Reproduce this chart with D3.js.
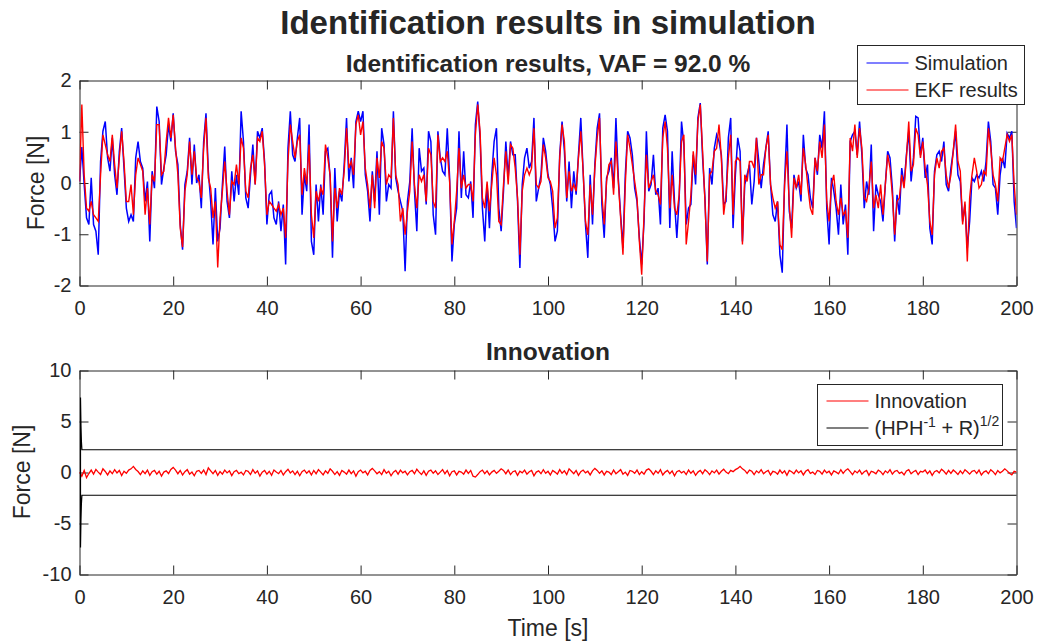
<!DOCTYPE html>
<html>
<head>
<meta charset="utf-8">
<script src="https://cdn.jsdelivr.net/npm/d3@7"></script>
<style>
  body { margin: 0; background: #fff; }
  text { font-family: "Liberation Sans", Arial, sans-serif; fill: #262626; }
  .tick line, .domain { stroke: #262626; }
</style>
</head>
<body>
<div id="chart"></div>
<script>
// Sample times (s), one sample every 0.5 s
const time = d3.range(0, 200.01, 0.5);

// Simulated force [N]
const simulation = [
  0.03,0.70,-0.03,-0.68,-0.81,0.10,-0.81,-0.94,-1.40,0.42,
  1.01,1.20,0.49,0.23,0.88,0.16,-0.23,0.62,1.07,0.29,
  -0.49,-0.75,-0.62,-0.75,0.49,0.81,0.42,0.29,-0.36,0.03,
  -1.14,0.23,-0.10,1.49,1.20,-0.03,0.29,0.55,1.14,0.81,
  1.36,0.62,0.36,-0.81,-1.30,-0.03,0.23,0.88,-0.03,0.75,
  0.00,0.16,-0.49,0.81,1.36,0.23,-0.36,-1.20,-0.10,-1.14,
  -0.88,-0.03,0.71,-0.36,-0.68,0.23,-0.36,0.16,-0.23,1.40,
  0.81,-0.29,-0.49,0.16,0.75,-0.03,1.01,0.88,1.07,0.42,
  -0.81,-0.23,-0.16,-0.68,-0.81,-0.36,-0.94,-0.42,-1.59,0.68,
  1.40,0.55,0.42,0.88,1.27,-0.62,0.16,-0.16,1.14,-1.14,
  -1.40,-0.03,-0.75,-0.03,-0.62,0.62,0.68,0.10,-1.46,0.29,
  -0.75,-0.16,-0.36,0.36,1.27,0.03,0.49,-0.10,1.20,1.40,
  1.20,1.40,0.16,-0.16,-0.75,0.23,-0.36,0.62,-0.62,1.07,
  0.75,-0.36,-0.03,-0.10,1.40,0.10,-0.16,-0.36,-0.55,-1.72,
  -0.36,0.03,1.07,-0.16,-0.94,0.68,0.23,0.29,-0.42,1.01,
  0.81,-0.62,-1.01,1.01,0.49,0.23,0.16,1.07,0.10,-1.53,
  -0.81,-0.49,1.01,-0.29,0.62,-0.23,-0.29,0.03,-0.68,1.14,
  1.59,0.88,-0.49,-1.14,-0.03,-0.88,0.16,0.81,1.07,-0.49,
  -0.94,-0.16,0.81,0.10,0.81,0.55,0.55,-0.36,-1.66,-0.03,
  0.49,0.68,0.29,0.42,1.27,-0.36,-0.10,0.16,0.88,0.62,
  0.16,-0.03,-0.49,-1.14,-0.94,0.55,1.20,0.62,-0.36,0.42,
  -0.49,0.23,-0.23,0.55,1.27,0.23,-0.81,-1.46,0.16,-0.81,
  0.36,1.07,1.36,-0.42,-1.07,0.10,0.23,0.49,-0.10,1.27,
  0.10,-0.62,-1.27,0.16,1.01,0.88,0.55,-0.10,-0.36,-1.07,
  -1.59,-0.75,1.01,-0.16,-0.03,0.55,-0.23,-0.10,-0.81,1.07,
  1.33,1.01,-0.88,0.62,-0.36,-1.07,-0.29,1.20,0.75,-0.81,
  -0.49,-0.42,0.55,-0.03,1.27,1.56,0.49,-0.29,-1.59,0.29,
  -0.03,0.68,0.94,0.81,0.55,-0.42,-0.36,0.88,1.27,-0.88,
  0.16,0.88,0.62,-1.14,-0.03,0.16,0.36,-0.42,0.03,0.88,
  0.42,-0.10,0.36,0.68,1.01,-0.03,-0.62,-0.75,-0.36,-1.40,
  -1.75,0.03,1.14,-0.55,-0.88,0.16,-0.10,0.03,-0.36,0.94,
  0.29,0.16,-0.29,-0.49,0.49,0.16,0.94,0.68,1.40,-0.49,
  -1.20,0.10,-0.16,-0.49,-1.01,-0.03,-0.81,-0.42,-1.40,0.81,
  0.94,1.01,0.55,1.20,0.55,-0.49,0.03,-0.23,0.75,-0.94,
  -0.03,-0.23,-0.36,-0.75,-0.03,0.62,0.49,-0.10,-1.14,-0.23,
  -0.62,0.29,-0.03,0.55,1.01,0.03,0.49,1.30,1.27,0.55,
  0.88,0.10,0.36,-0.88,-1.20,0.23,0.55,0.62,0.42,0.81,
  -0.03,-0.16,0.29,0.62,1.01,0.16,0.03,-0.75,-0.42,-1.27,
  -0.75,0.10,0.03,0.16,0.10,0.23,0.03,0.42,1.20,0.81,
  -0.03,-0.10,-0.62,0.16,0.49,0.29,0.97,0.88,1.01,-0.36,
  -0.88
];

// EKF estimate [N]
const ekf = [
  0.03,1.53,0.16,-0.49,-0.55,-0.36,-0.62,-0.68,-0.75,0.16,
  0.94,0.75,0.55,0.42,0.94,0.36,-0.10,0.49,1.01,0.42,
  -0.36,-0.36,-0.03,-0.62,0.16,0.49,0.36,0.23,-0.62,-0.10,
  -0.81,0.16,0.03,1.14,1.14,0.16,0.23,0.81,1.27,0.88,
  1.33,0.68,0.16,-0.88,-1.25,-0.16,0.16,0.81,0.16,0.62,
  0.10,0.03,-0.29,0.68,1.27,0.10,-0.10,-0.68,-0.36,-1.65,
  -0.68,-0.16,0.42,-0.16,-0.62,0.03,-0.03,0.36,-0.03,0.88,
  0.68,-0.16,-0.29,0.29,0.55,-0.03,0.88,0.81,1.01,0.36,
  -0.62,-0.36,-0.42,-0.49,-0.55,-0.42,-0.62,-0.49,-1.07,0.42,
  1.14,0.81,0.49,0.81,0.94,-0.23,0.29,-0.03,0.75,-0.62,
  -1.07,-0.16,-0.36,-0.10,-0.23,0.75,0.49,0.16,-1.14,-0.10,
  -0.49,-0.10,-0.23,0.23,1.07,0.29,0.42,0.16,1.14,1.33,
  0.94,1.20,0.29,-0.03,-0.49,0.16,-0.49,0.49,0.10,0.81,
  0.68,-0.03,0.16,0.10,1.27,0.16,-0.03,-0.75,-0.49,-1.01,
  -0.55,-0.16,0.81,-0.03,-0.49,0.16,0.03,0.16,-0.36,0.68,
  0.55,-0.36,-0.49,0.94,0.42,0.49,0.42,0.62,0.03,-1.20,
  -0.75,-0.16,0.68,-0.10,0.16,-0.10,-0.03,-0.03,-0.36,0.94,
  1.53,1.01,-0.29,-0.49,0.03,-0.55,-0.03,0.49,0.16,-0.75,
  -0.81,-0.03,0.62,-0.03,0.75,0.68,0.29,-0.29,-1.40,-0.16,
  0.16,0.29,0.16,0.29,1.07,-0.03,-0.10,0.03,0.75,0.49,
  0.10,0.03,-0.16,-0.88,-0.68,0.49,1.14,0.81,-0.29,0.23,
  -0.16,-0.03,-0.16,0.49,1.01,0.23,-0.75,-1.01,-0.03,-0.62,
  0.29,0.88,1.27,-0.23,-0.81,0.03,0.36,0.42,-0.23,0.81,
  0.03,-0.68,-1.40,-0.03,0.94,0.68,0.36,0.03,-0.29,-1.14,
  -1.79,-0.62,0.55,-0.10,0.03,0.16,-0.16,-0.23,-0.42,0.88,
  1.20,0.68,-0.49,0.16,-0.49,-0.62,-0.23,0.81,0.94,-1.20,
  -0.75,-0.23,0.62,0.16,1.20,1.53,0.62,-0.36,-1.53,0.16,
  0.23,0.62,0.68,1.14,0.49,-0.62,-0.23,0.49,0.94,-0.62,
  0.42,0.49,0.42,-1.20,0.16,0.03,0.42,0.42,0.29,0.88,
  -0.03,0.16,0.16,0.68,0.94,-0.03,-0.29,-0.49,-0.36,-1.20,
  -1.30,-0.03,0.62,-0.42,-1.07,0.10,-0.10,0.16,-0.23,0.68,
  0.36,-0.10,-0.49,-0.62,0.49,0.23,0.81,0.49,1.14,-0.36,
  -0.75,-0.03,0.16,-0.36,-0.62,-0.29,-0.62,-0.55,-1.07,0.88,
  0.62,1.14,0.49,1.07,0.68,-0.29,-0.36,-0.10,0.42,-0.49,
  -0.23,-0.49,-0.03,-0.62,-0.03,0.55,0.29,-0.23,-1.01,-0.36,
  -0.29,0.16,-0.10,0.49,1.20,0.23,0.36,1.07,0.94,0.49,
  0.81,0.29,-0.03,-0.75,-1.01,0.16,0.49,0.29,0.62,0.68,
  0.16,-0.10,0.16,0.62,1.14,0.42,0.23,-0.81,-0.36,-1.53,
  -0.29,0.16,0.49,0.23,-0.10,-0.03,0.23,0.16,1.07,0.68,
  0.16,-0.03,-0.36,0.49,0.42,0.68,0.94,0.81,0.94,-0.03,
  -0.62
];

// Innovation [N]
const innovation = [
  0.04,-0.36,0.20,-0.50,-0.10,0.24,-0.16,0.30,0.04,-0.20,0.36,0.10,-0.24,0.16,-0.12,0.28,-0.04,0.20,-0.30,0.12,
  -0.08,0.24,0.36,0.60,0.30,0.10,-0.20,0.16,-0.12,0.24,-0.28,0.08,0.20,-0.16,0.12,-0.36,0.04,0.16,-0.10,0.30,
  0.50,0.24,-0.12,0.20,-0.24,0.08,0.28,-0.16,0.04,-0.32,0.12,0.20,-0.08,0.24,-0.20,0.45,0.16,-0.12,0.20,-0.28,
  0.10,-0.16,0.24,-0.04,0.16,-0.30,0.08,0.20,-0.12,0.04,-0.24,0.20,0.12,-0.20,0.28,-0.08,0.16,-0.36,0.04,0.20,
  -0.16,0.12,-0.28,0.24,0.04,-0.12,0.20,-0.24,0.08,0.32,-0.04,0.16,-0.20,0.12,-0.32,0.08,0.24,-0.08,0.16,-0.24,
  0.20,-0.12,0.28,0.04,-0.24,0.16,-0.08,0.36,0.12,-0.20,0.08,-0.28,0.20,0.04,-0.16,0.24,-0.12,0.16,-0.36,0.08,
  0.24,-0.04,0.12,-0.24,0.20,0.40,0.16,-0.12,0.08,-0.20,0.28,-0.08,0.12,-0.32,0.04,0.20,-0.16,0.24,-0.04,0.12,
  -0.24,0.08,0.20,-0.12,0.32,0.04,-0.20,0.16,-0.28,0.12,0.24,-0.08,0.16,-0.20,0.04,0.28,-0.12,0.20,-0.32,0.08,
  0.16,-0.24,0.12,0.04,-0.16,0.24,-0.08,0.20,-0.36,-0.45,-0.20,0.08,0.24,-0.12,0.16,-0.24,0.04,0.20,-0.08,0.12,
  0.36,0.20,-0.12,0.24,-0.20,0.08,0.16,-0.28,0.12,-0.04,0.24,-0.16,0.08,0.20,-0.32,0.04,0.16,-0.12,0.28,-0.08,
  0.12,-0.24,0.20,0.04,-0.16,0.28,-0.08,0.16,-0.20,0.36,0.12,-0.12,0.20,-0.28,0.08,0.24,-0.04,0.12,-0.24,0.16,
  0.40,0.20,-0.08,0.16,-0.24,0.12,0.04,-0.20,0.24,-0.12,0.08,0.28,-0.16,0.04,-0.28,0.20,0.12,-0.08,0.24,-0.20,
  0.08,-0.16,0.24,0.36,0.12,-0.20,0.16,-0.08,0.28,-0.24,0.04,0.20,-0.12,0.16,-0.32,0.08,0.20,-0.04,0.12,-0.20,
  0.24,-0.08,0.16,-0.28,0.04,0.20,-0.12,0.28,0.08,-0.20,0.16,-0.04,0.24,-0.16,0.12,0.32,0.04,-0.12,0.20,0.08,
  0.28,0.40,0.60,0.36,0.20,-0.08,0.24,0.12,-0.20,0.16,-0.04,0.28,-0.12,0.08,0.20,-0.24,0.12,0.04,-0.16,0.24,
  -0.08,0.16,-0.28,0.20,0.08,-0.12,0.24,-0.04,0.16,-0.24,0.12,0.28,-0.08,0.04,-0.20,0.20,0.12,-0.16,0.24,-0.04,
  0.12,-0.24,0.16,0.04,-0.12,0.28,-0.08,0.20,0.36,0.08,-0.20,0.16,-0.04,0.24,-0.16,0.08,0.20,-0.28,0.12,0.04,
  -0.12,0.24,0.08,-0.20,0.16,-0.04,0.28,-0.16,0.12,0.20,-0.08,0.04,-0.24,0.16,0.28,-0.12,0.08,0.20,-0.20,0.12,
  0.04,0.24,-0.12,0.16,-0.28,0.08,0.20,-0.04,0.32,0.12,-0.16,0.20,-0.08,0.24,0.04,-0.20,0.16,-0.12,0.28,0.08,
  -0.16,0.12,0.20,-0.08,0.24,-0.24,0.04,0.16,-0.12,0.28,0.08,-0.20,0.20,-0.04,0.12,0.36,0.16,-0.08,-0.24,0.12,
  0.04
];

// Innovation bound (HPH^-1 + R)^1/2, drawn as one path: upper branch back to t=0, then lower branch
const boundTime = [200, 0.3, 0.2, 0.1, 0, 0, 0.1, 0.2, 0.3, 200];
const boundValue = [2.23, 2.23, 3.0, 4.6, 7.35, -7.35, -4.6, -3.0, -2.23, -2.23];

const xTicks = d3.range(0, 201, 20);
const yTicksTop = [-2, -1, 0, 1, 2];
const yTicksBottom = [-10, -5, 0, 5, 10];

const W = 1038, H = 643;
const left = 79.5, right = 1016.5;

const svg = d3.select("#chart").append("svg")
    .attr("width", W).attr("height", H);
svg.append("rect").attr("width", W).attr("height", H).attr("fill", "#fff");

const x = d3.scaleLinear().domain([0, 200]).range([left, right]);
const fmt = d => String(d); // plain hyphen minus like MATLAB

function drawAxes(top, bottom, yDomain, yTicks, id) {
    const y = d3.scaleLinear().domain(yDomain).range([bottom, top]);

    svg.append("clipPath").attr("id", id)
        .append("rect").attr("x", left).attr("y", top)
        .attr("width", right - left).attr("height", bottom - top);

    // inward ticks on all four sides
    const g = svg.append("g").attr("class", "axes");
    g.append("g").attr("transform", `translate(0,${bottom})`)
        .call(d3.axisBottom(x).tickValues(xTicks).tickFormat(fmt).tickSizeInner(-9).tickSizeOuter(0).tickPadding(15))
        .call(a => a.selectAll("text").style("font-size", "20px").attr("fill", "#262626"));
    g.append("g").attr("transform", `translate(0,${top})`)
        .call(d3.axisTop(x).tickValues(xTicks).tickSizeInner(-9).tickSizeOuter(0).tickFormat(""));
    g.append("g").attr("transform", `translate(${left},0)`)
        .call(d3.axisLeft(y).tickValues(yTicks).tickFormat(fmt).tickSizeInner(-9).tickSizeOuter(0).tickPadding(8))
        .call(a => a.selectAll("text").style("font-size", "20px").attr("fill", "#262626"));
    g.append("g").attr("transform", `translate(${right},0)`)
        .call(d3.axisRight(y).tickValues(yTicks).tickSizeInner(-9).tickSizeOuter(0).tickFormat(""));
    g.selectAll("text").style("font-family", "'Liberation Sans', Arial, sans-serif");
    return y;
}

// ---------- top panel ----------
const y1 = drawAxes(80.5, 285.5, [-2, 2], yTicksTop, "clipTop");
const line1 = d3.line().x((d, i) => x(time[i])).y(d => y1(d));

const plotTop = svg.append("g").attr("clip-path", "url(#clipTop)");
plotTop.append("path").datum(simulation)
    .attr("fill", "none").attr("stroke", "#0000ff").attr("stroke-width", 1.5)
    .attr("d", line1);
plotTop.append("path").datum(ekf)
    .attr("fill", "none").attr("stroke", "#ff0000").attr("stroke-width", 1.4)
    .attr("d", line1);

// ---------- bottom panel ----------
const y2 = drawAxes(370.5, 574.5, [-10, 10], yTicksBottom, "clipBottom");
const plotBottom = svg.append("g").attr("clip-path", "url(#clipBottom)");
plotBottom.append("path").datum(innovation)
    .attr("fill", "none").attr("stroke", "#ff0000").attr("stroke-width", 1.3)
    .attr("d", d3.line().x((d, i) => x(time[i])).y(d => y2(d)));
plotBottom.append("path").datum(boundValue)
    .attr("fill", "none").attr("stroke", "#000").attr("stroke-width", 1.2)
    .attr("d", d3.line().x((d, i) => x(boundTime[i]) + 1).y(d => y2(d)));

// ---------- titles and labels ----------
svg.append("text").attr("x", 548).attr("y", 34)
    .attr("text-anchor", "middle").style("font-size", "33px").style("font-weight", "bold")
    .attr("fill", "#000").text("Identification results in simulation");
svg.append("text").attr("x", 548).attr("y", 72)
    .attr("text-anchor", "middle").style("font-size", "24.5px").style("font-weight", "bold")
    .attr("fill", "#000").text("Identification results, VAF = 92.0 %");
svg.append("text").attr("x", 548).attr("y", 360)
    .attr("text-anchor", "middle").style("font-size", "24.5px").style("font-weight", "bold")
    .attr("fill", "#000").text("Innovation");

svg.append("text").attr("transform", "translate(44,183) rotate(-90)")
    .attr("text-anchor", "middle").style("font-size", "23px").text("Force [N]");
svg.append("text").attr("transform", "translate(30,472) rotate(-90)")
    .attr("text-anchor", "middle").style("font-size", "23px").text("Force [N]");
svg.append("text").attr("x", 548).attr("y", 636)
    .attr("text-anchor", "middle").style("font-size", "23px").text("Time [s]");

// ---------- legends ----------
function legend(x0, y0, w, h, items) {
    const g = svg.append("g");
    g.append("rect").attr("x", x0).attr("y", y0).attr("width", w).attr("height", h)
        .attr("fill", "#fff").attr("stroke", "#262626").attr("stroke-width", 1);
    items.forEach(it => {
        g.append("line").attr("x1", x0 + 9).attr("x2", x0 + 51)
            .attr("y1", it.y).attr("y2", it.y)
            .attr("stroke", it.color).attr("stroke-width", 1.2);
        const t = g.append("text").attr("x", x0 + 57).attr("y", it.y + 7)
            .style("font-size", "20px").attr("fill", "#000");
        it.label(t);
    });
}
legend(857.5, 45.5, 167, 59, [
    { y: 63, color: "#0000ff", label: t => t.text("Simulation") },
    { y: 90, color: "#ff0000", label: t => t.text("EKF results") }
]);
legend(817.5, 384.5, 185, 61, [
    { y: 401, color: "#ff0000", label: t => t.text("Innovation") },
    { y: 428, color: "#000000", label: t => {
        t.append("tspan").text("(HPH");
        t.append("tspan").attr("dy", -8).style("font-size", "14px").text("-1");
        t.append("tspan").attr("dy", 8).text(" + R)");
        t.append("tspan").attr("dy", -9).style("font-size", "14px").text("1/2");
    } }
]);
</script>
</body>
</html>
